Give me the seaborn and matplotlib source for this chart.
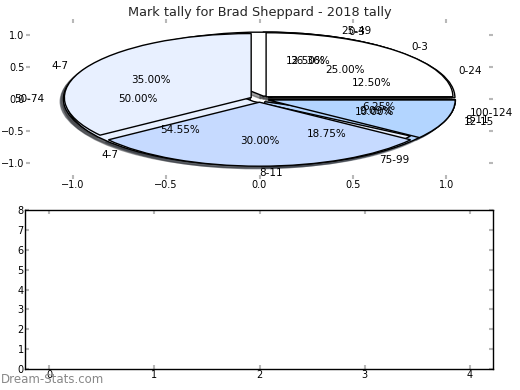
import matplotlib
matplotlib.use("Agg")
import matplotlib.pyplot as plt
import seaborn as sns

# ---- data ----
title = "Mark tally for Brad Sheppard - 2018 tally"
total_bins = ["0-24", "25-49", "50-74", "75-99", "100-124"]
total_counts = [2, 2, 8, 3, 1]
tally_bins_a = ["0-3", "4-7", "8-11"]
tally_counts_a = [4, 6, 1]
tally_bins_b = ["0-3", "4-7", "8-11", "12-15"]
tally_counts_b = [5, 7, 6, 2]
wedge_colors = ["#ffffff", "#e8f0ff", "#c6daff", "#b3d5ff", "#9dc6ff"]
bar_categories = [0, 1, 2, 3, 4]
bar_values = [0, 0, 0, 0, 0]
pie_ticks = [-1.0, -0.5, 0.0, 0.5, 1.0]
bar_yticks = [0, 1, 2, 3, 4, 5, 6, 7, 8]

sns.set_style("white")
plt.rcParams["font.family"] = ["DejaVu Sans"]

fig = plt.figure(figsize=(5.2, 3.9), dpi=100)
ax1 = fig.add_axes([26 / 520, 1 - 179 / 390, 467 / 520, 160 / 390])
ax2 = fig.add_axes([25.3 / 520, 21 / 390, 467.7 / 520, 159 / 390])

for vals, labs in [(total_counts, total_bins),
                   (tally_counts_a, tally_bins_a),
                   (tally_counts_b, tally_bins_b)]:
    ax1.pie(vals, labels=labs, colors=wedge_colors[:len(vals)],
            explode=[0.05] * len(vals),
            shadow=dict(ox=-0.012, oy=-0.028, shade=0.75),
            autopct="%1.2f%%", startangle=0, frame=False,
            wedgeprops=dict(edgecolor="black", linewidth=1),
            textprops=dict(fontsize=7.5, color="black"))

ax1.set_aspect("auto")
ax1.set_xlim(-1.25, 1.25)
ax1.set_ylim(-1.25, 1.25)
ax1.set_frame_on(False)
ax1.set_xticks(pie_ticks)
ax1.set_yticks(pie_ticks)
ax1.tick_params(which="both", direction="in", color="#b8b8b8", length=3,
                width=1.5, top=True, right=True, bottom=True, left=True,
                labelsize=7, pad=1, labelcolor="black")
ax1.set_title(title, fontsize=9.3, pad=2)

sns.barplot(x=bar_categories, y=bar_values, ax=ax2, color="#c6daff",
            linewidth=0)
ax2.set_xlim(-0.228, 4.218)
ax2.set_ylim(0, 8)
ax2.set_yticks(bar_yticks)
ax2.set_xlabel("")
ax2.set_ylabel("")
for s in ax2.spines.values():
    s.set_visible(True)
    s.set_color("black")
    s.set_linewidth(1)
ax2.tick_params(which="both", direction="in", color="#b8b8b8", length=3,
                width=1.5, top=True, right=True, bottom=True, left=True,
                labelsize=7, pad=1, labelcolor="black")

fig.text(0.002, 0.01, "Dream-Stats.com", fontsize=8.5, color="#888888",
         ha="left", va="bottom")

fig.savefig("out.png", dpi=100)
